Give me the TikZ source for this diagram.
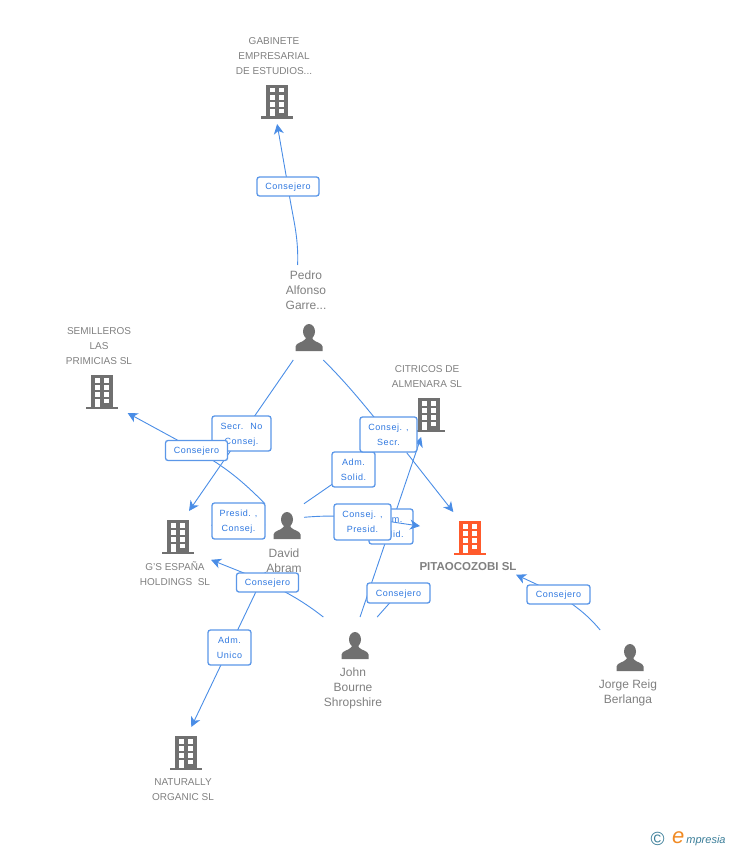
\documentclass[tikz,border=0pt]{standalone}
\usepackage{fontspec}
\setmainfont{Liberation Sans}
\newfontfamily\boxfont[LetterSpace=6]{Liberation Sans}
\usetikzlibrary{positioning,arrows.meta,backgrounds}
\definecolor{linkblue}{HTML}{4A8DE6}
\definecolor{boxline}{HTML}{5B97E8}
\definecolor{boxtext}{HTML}{2F78E0}
\definecolor{icongray}{HTML}{707070}
\definecolor{textgray}{HTML}{808080}
\definecolor{iconred}{HTML}{FF5A2C}
\definecolor{logoblue}{HTML}{3A7D98}
\definecolor{logoorange}{HTML}{F08A24}
\tikzset{
  entity/.style={inner sep=0pt, outer sep=0pt},
  firmname/.style={text=textgray, align=center, inner sep=0pt, font=\fontsize{10}{15}\selectfont},
  personname/.style={text=textgray, align=center, inner sep=0pt, font=\fontsize{12}{15}\selectfont},
  rolebox/.style={draw=boxline, fill=white, line width=1.3pt, rounded corners=2.5pt, text=boxtext, align=center, inner sep=0pt, text depth=0pt, font=\boxfont\fontsize{9}{15}\selectfont},
  link/.style={draw=linkblue, line width=0.9pt},
  arrowlink/.style={link, -{Stealth[length=10pt,width=10pt,inset=3pt]}},
  pics/building/.style={code={
    \fill[#1] (-11,-17) rectangle (11,15);
    \fill[#1] (-16,14.5) rectangle (16,17);
    \foreach \wx in {-7,2}{
      \foreach \wy in {-14,-6.7,0.3}{\fill[white] (\wx,\wy) rectangle ++(5,4.5);}}
    \fill[white] (-7,6.7) rectangle (-2,14.5);
    \fill[white] (2,6.7) rectangle (7,11.3);
  }},
  pics/person/.style={code={
    \fill[icongray] (0,-5.5) ellipse[x radius=6, y radius=7.5];
    \fill[icongray] (-13.5,14) -- (-13.5,9.5) .. controls (-13,5.5) and (-6,5.5) .. (-3.5,2) -- (-3.5,-1) -- (3.5,-1) -- (3.5,2) .. controls (6,5.5) and (13,5.5) .. (13.5,9.5) -- (13.5,14) -- cycle;
  }}
}
\begin{document}
\begin{tikzpicture}[x=1pt,y=-1pt]
  \useasboundingbox (0,0) rectangle (728,850);
  % people and companies, the box of each holds icon and name
  \foreach \x/\y/\w/\h/\name in {274/79.5/76/89/gabinete,99/369/64/88/semilleros,427/400/74/74/citricos,175/549.5/72/77/gespana,468/543.5/96/63/pitaocozobi,183/766/64/78/naturally,306/312.5/42/95/pedro,284.5/537.5/39/69/david,353.5/663.5/61/93/john,628.5/669/63/78/jorge}{
    \node[entity, minimum width=\w pt, minimum height=\h pt] (\name) at (\x,\y) {};}
  \foreach \x/\y in {277/102,102/392,429/415,178/537,186/753}{\pic at (\x,\y) {building=icongray};}
  \pic at (470,538) {building=iconred};
  \foreach \x/\y in {309/337,287/525,355/645,630/657}{\pic at (\x,\y) {person};}
  % names
  \node[firmname] (gabinetename) at (274,56) {GABINETE\\EMPRESARIAL\\DE ESTUDIOS...};
  \node[firmname] (semillerosname) at (99,346.5) {SEMILLEROS\\LAS\\PRIMICIAS SL};
  \node[firmname] (citricosname) at (427,377) {CITRICOS DE\\ALMENARA SL};
  \node[firmname] (gespananame) at (175,574) {G'S ESPAÑA\\HOLDINGS~ SL};
  \node[firmname] (naturallyname) at (183,790) {NATURALLY\\ORGANIC SL};
  \node[text=textgray, inner sep=0pt, font=\bfseries\fontsize{11.5}{15}\selectfont] (pitaocozobiname) at (468,566.5) {PITAOCOZOBI SL};
  \node[personname] (pedroname) at (306,290) {Pedro\\Alfonso\\Garre...};
  \node[personname] (davidname) at (284,561) {David\\Abram};
  \node[personname] (johnname) at (353,688.5) {John\\Bourne\\Shropshire};
  \node[personname] (jorgename) at (628,693) {Jorge Reig\\Berlanga};
  % roles
  \node[rolebox, minimum width=62pt, minimum height=19pt] (rolegabinete) at (288,186.5) {Consejero};
  \node[rolebox, minimum width=59pt, minimum height=35pt] (rolegespana) at (241.5,433.5) {Secr.~ No\\Consej.};
  \node[rolebox, minimum width=62pt, minimum height=20pt] (rolesemilleros) at (196.5,450.5) {Consejero};
  \node[rolebox, minimum width=43pt, minimum height=35pt] (rolecitricos) at (353.5,469.5) {Adm.\\Solid.};
  \node[rolebox, minimum width=57pt, minimum height=35pt] (rolepit) at (388.5,434.5) {Consej. ,\\Secr.};
  \node[rolebox, minimum width=53pt, minimum height=36pt] (rolepresid) at (238.5,521) {Presid. ,\\Consej.};
  \node[rolebox, minimum width=44pt, minimum height=35pt] (rolesolid) at (391,526.5) {Adm.\\Solid.};
  % this one runs over the box before it
  \draw[arrowlink] (david.46.4) to[out=5,in=172] (pitaocozobi.160);
  \node[rolebox, minimum width=57pt, minimum height=36pt] (roledavid) at (362.5,522) {Consej. ,\\Presid.};
  \node[rolebox, minimum width=62pt, minimum height=19pt] (rolejohn) at (267.5,582.5) {Consejero};
  \node[rolebox, minimum width=63pt, minimum height=20pt] (rolejohnpit) at (398.5,593) {Consejero};
  \node[rolebox, minimum width=63pt, minimum height=19pt] (rolejorge) at (558.5,594.5) {Consejero};
  \node[rolebox, minimum width=43pt, minimum height=35pt] (roleunico) at (229.5,647.5) {Adm.\\Unico};
  % connectors go under everything
  \begin{scope}[on background layer]
    \draw[arrowlink] (pedro.100.7) to[out=88,in=-82] (rolegabinete.center) -- (gabinete.-86);
    \draw[arrowlink] (pedro.-105.3) -- (gespana.70);
    \draw[link] (pedro.-70.3) to[out=-45,in=130] (rolepit.center);
    \draw[arrowlink] (rolepit.-45) -- (pitaocozobi.115.5);
    \draw[arrowlink] (david.120) to[out=135,in=-30] (rolesemilleros.center) -- (semilleros.-57.5);
    \draw[link] (david.60) -- (rolecitricos.center) -- (rolepit.center);
    \draw[arrowlink] (david.147.3) -- (gespana.34.2);
    \draw[arrowlink] (david.-119.5) -- (naturally.78.5);
    \draw[arrowlink] (john.123) to[out=142,in=-28] (rolejohn.center) -- (gespana.-16.3);
    \draw[arrowlink] (john.82) -- (citricos.-99.2);
    \draw[link] (john.63.2) -- (rolejohnpit.center);
    \draw[arrowlink] (jorge.126) to[out=130,in=-35] (rolejorge.center) -- (pitaocozobi.-33.3);
  \end{scope}
  % logo
  \node[inner sep=0pt, text=logoblue, font=\fontsize{19}{19}\selectfont] (logomark) at (657.5,839) {©};
  \node[inner sep=0pt, anchor=base west, text=logoblue, font=\itshape\fontsize{11}{15}\selectfont] (logoword) at (672,843) {{\color{logoorange}\fontsize{22}{15}\selectfont e}\kern2pt mpresia};
\end{tikzpicture}
\end{document}
